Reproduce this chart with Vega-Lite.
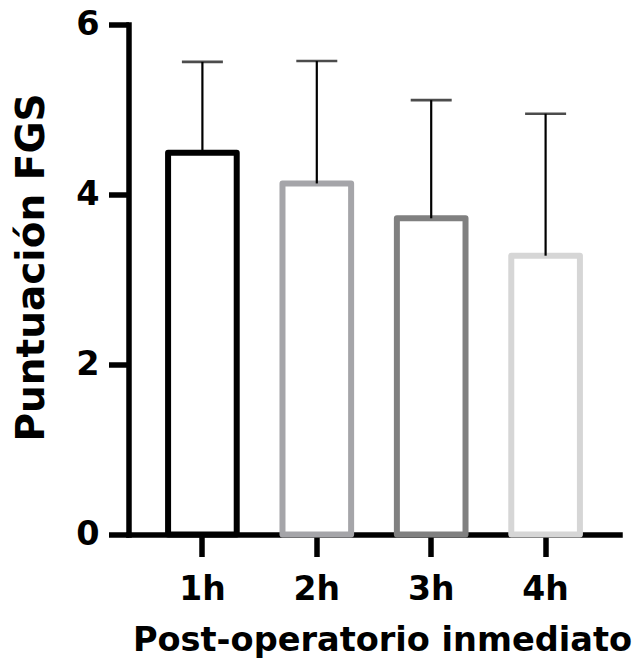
{
  "$schema": "https://vega.github.io/schema/vega-lite/v6.json",
  "width": 491,
  "height": 510,
  "autosize": "none",
  "padding": {"left": 128.5, "top": 24.5, "right": 20.5, "bottom": 133.5},
  "background": "white",
  "config": {
    "view": {"stroke": null},
    "axis": {
      "grid": false,
      "domainColor": "black",
      "tickColor": "black",
      "labelColor": "black",
      "titleColor": "black",
      "labelFont": "DejaVu Sans",
      "titleFont": "DejaVu Sans",
      "labelFontWeight": "bold",
      "titleFontWeight": "bold",
      "domainWidth": 5.5,
      "tickWidth": 5.5,
      "domainCap": "square",
      "zindex": 1
    }
  },
  "data": {
    "values": [
      {"t": "1h", "mean": 4.49, "upper": 5.56},
      {"t": "2h", "mean": 4.13, "upper": 5.57},
      {"t": "3h", "mean": 3.72, "upper": 5.11},
      {"t": "4h", "mean": 3.28, "upper": 4.95}
    ]
  },
  "encoding": {
    "x": {
      "field": "t",
      "type": "nominal",
      "sort": ["1h", "2h", "3h", "4h"],
      "scale": {"paddingInner": 0.4, "paddingOuter": 0.346},
      "axis": {
        "title": "Post-operatorio inmediato",
        "labelAngle": 0,
        "labelFontSize": 33,
        "labelPadding": 17,
        "tickSize": 22,
        "titleFontSize": 33.6,
        "titleX": 253.5,
        "titleY": 115.5,
        "titleAlign": "center",
        "titleBaseline": "alphabetic"
      }
    }
  },
  "layer": [
    {
      "mark": {"type": "bar", "fill": "white", "strokeWidth": 6, "strokeJoin": "round"},
      "encoding": {
        "y": {
          "field": "mean",
          "type": "quantitative",
          "scale": {"domain": [0, 6], "nice": false},
          "axis": {
            "title": "Puntuación FGS",
            "values": [0, 2, 4, 6],
            "format": "d",
            "labelFontSize": 33.5,
            "labelPadding": 9.5,
            "tickSize": 20,
            "titleFontSize": 39,
            "titleAngle": 270,
            "titleX": -85.5,
            "titleY": 242.5,
            "titleAlign": "center",
            "titleBaseline": "alphabetic"
          }
        },
        "stroke": {
          "field": "t",
          "type": "nominal",
          "scale": {"domain": ["1h", "2h", "3h", "4h"], "range": ["#000000", "#a5a5a9", "#808080", "#d6d6d6"]},
          "legend": null
        }
      }
    },
    {
      "mark": {"type": "rule", "color": "black", "strokeWidth": 2.2},
      "encoding": {
        "y": {"field": "mean", "type": "quantitative"},
        "y2": {"field": "upper"}
      }
    },
    {
      "mark": {"type": "tick", "color": "black", "size": 41, "thickness": 2.6},
      "encoding": {
        "y": {"field": "upper", "type": "quantitative"}
      }
    }
  ]
}
